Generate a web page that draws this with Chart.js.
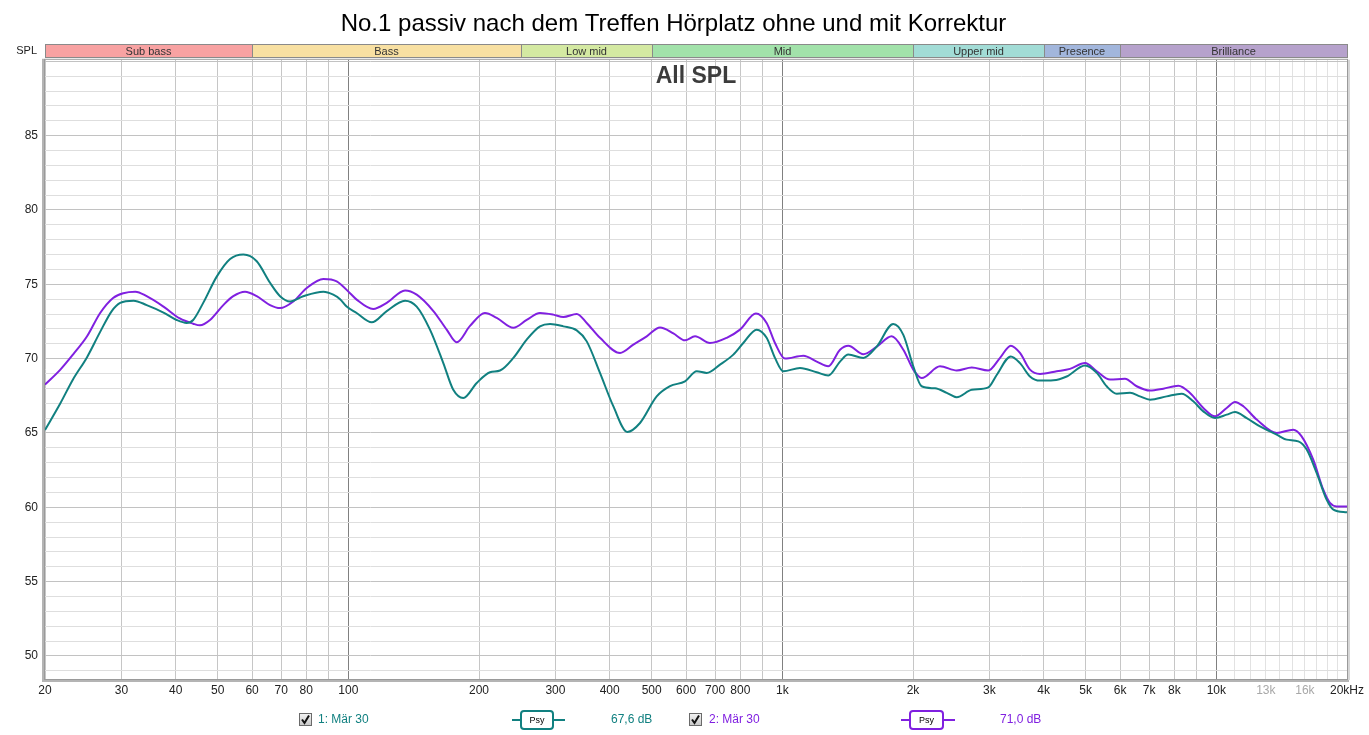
<!DOCTYPE html>
<html>
<head>
<meta charset="utf-8">
<script src="https://cdn.jsdelivr.net/npm/chart.js@4.4.0/dist/chart.umd.min.js"></script>
<style>
  html, body { margin: 0; padding: 0; background: #fff; }
  #wrap { width: 1369px; height: 735px; }
</style>
</head>
<body>
<div id="wrap"><canvas id="myChart"></canvas></div>
<script>
// measurement 1 (teal), frequency in Hz and SPL in dB
const freq1 = [20, 21.7, 23.2, 25, 26.8, 28.5, 29.8, 32, 34.3, 37.5,
  40.2, 42.4, 43.9, 46.3, 49.7, 53.4, 57.3, 61.5, 66, 69.6,
  73.4, 78.7, 87.6, 92.3, 95.7, 99.1, 104.5, 113.2, 122.6, 135.1,
  143.7, 154.2, 165.5, 174.5, 184, 197.6, 212, 223.6, 240, 257.6,
  276.4, 291.6, 312.9, 335.9, 354.2, 380, 407.8, 439.4, 469.9, 513.4,
  551, 596.6, 634.9, 669.4, 718.4, 771, 812.8, 872.6, 920, 961.6,
  1005, 1098, 1200, 1276, 1358, 1419, 1537, 1649, 1801, 1900,
  2003, 2094, 2248, 2392, 2522, 2732, 2982, 3118, 3360, 3528,
  3720, 3924, 4212, 4520, 4982, 5302, 5588, 5894, 6325, 6668,
  7035, 7684, 8318, 8848, 9332, 9931, 10564, 11040, 11748, 12604,
  13772, 14520, 15446, 16148, 17032, 17962, 18606, 20000];
const spl1 = [65.2, 67.0, 68.6, 70.1, 71.8, 73.2, 73.75, 73.9, 73.6, 73.1,
  72.6, 72.4, 72.6, 73.75, 75.5, 76.7, 77.0, 76.55, 75.1, 74.2,
  73.85, 74.2, 74.5, 74.3, 74.0, 73.5, 73.07, 72.44, 73.2, 73.9,
  73.5, 71.95, 69.7, 67.9, 67.35, 68.36, 69.08, 69.2, 70.05, 71.28,
  72.17, 72.33, 72.17, 71.9, 71.16, 69.04, 66.8, 65.07, 65.67, 67.46,
  68.15, 68.47, 69.15, 69.04, 69.6, 70.27, 71.05, 71.95, 71.4, 70.05,
  69.15, 69.37, 69.08, 68.86, 69.8, 70.27, 70.05, 70.8, 72.33, 71.6,
  69.48, 68.14, 68.0, 67.7, 67.4, 67.9, 68.07, 68.9, 70.15, 69.7,
  68.8, 68.52, 68.54, 68.8, 69.53, 69.04, 68.14, 67.64, 67.7, 67.46,
  67.24, 67.46, 67.64, 67.13, 66.45, 66.0, 66.23, 66.41, 66.0, 65.44,
  64.89, 64.55, 64.43, 63.88, 62.3, 60.5, 59.84, 59.66];

// measurement 2 (purple)
const freq2 = [20, 21.7, 23.2, 25, 26.8, 28.7, 30.3, 32.3, 34.3, 37.5,
  40.9, 43.9, 45.5, 48, 51.5, 54.3, 57.8, 61.5, 66, 69.6,
  74.7, 80.2, 87.6, 94, 100.9, 104.5, 114.1, 122.6, 135.1, 143.7,
  157, 168.5, 177.7, 190.7, 206.4, 219.7, 240, 257.6, 276.4, 296.7,
  312.9, 335.9, 354.2, 380, 422.7, 453.6, 487, 522.6, 560.8, 596.6,
  629.2, 681.2, 744.4, 798.8, 869.2, 920, 961.6, 1014, 1118, 1200,
  1276, 1358, 1419, 1537, 1649, 1786, 1900, 2003, 2094, 2308,
  2522, 2732, 2982, 3174, 3360, 3528, 3720, 3924, 4287, 4600,
  4982, 5302, 5688, 6158, 6551, 7035, 7548, 8173, 8695, 9332,
  9931, 10564, 11040, 11538, 12388, 13772, 15038, 15720, 16720, 17636,
  18270, 18932, 20000];
const spl2 = [68.25, 69.26, 70.27, 71.5, 73.07, 74.08, 74.4, 74.5, 74.2, 73.5,
  72.7, 72.35, 72.24, 72.6, 73.6, 74.2, 74.5, 74.2, 73.6, 73.4,
  73.85, 74.75, 75.36, 75.2, 74.4, 73.97, 73.34, 73.75, 74.58, 74.3,
  73.2, 71.95, 71.1, 72.2, 73.07, 72.74, 72.07, 72.6, 73.07, 72.96,
  72.8, 73.0, 72.4, 71.4, 70.38, 70.94, 71.5, 72.1, 71.7, 71.23,
  71.5, 71.05, 71.4, 71.95, 73.03, 72.4, 71.05, 70.0, 70.2, 69.8,
  69.48, 70.6, 70.87, 70.3, 70.8, 71.5, 70.6, 69.26, 68.7, 69.48,
  69.2, 69.4, 69.2, 70.05, 70.87, 70.38, 69.26, 68.97, 69.15, 69.31,
  69.71, 69.15, 68.59, 68.65, 68.14, 67.85, 67.98, 68.18, 67.69, 66.68,
  66.12, 66.68, 67.09, 66.8, 65.9, 65.0, 65.22, 64.77, 63.2, 61.18,
  60.29, 60.06, 60.06];

const xTickValues = [20, 30, 40, 50, 60, 70, 80, 90,
  100, 200, 300, 400, 500, 600, 700, 800, 900,
  1000, 2000, 3000, 4000, 5000, 6000, 7000, 8000, 9000,
  10000, 11000, 12000, 13000, 14000, 15000, 16000, 17000, 18000, 19000, 20000];
const xTickLabels = ["20", "30", "40", "50", "60", "70", "80", "",
  "100", "200", "300", "400", "500", "600", "700", "800", "",
  "1k", "2k", "3k", "4k", "5k", "6k", "7k", "8k", "",
  "10k", "", "", "13k", "", "", "16k", "", "", "", "20kHz"];
const greyTickLabels = [13000, 16000];
const yTickLabels = [50, 55, 60, 65, 70, 75, 80, 85];

const bandNames = ["Sub bass", "Bass", "Low mid", "Mid", "Upper mid", "Presence", "Brilliance"];
const bandEdges = [20, 60, 250, 500, 2000, 4000, 6000, 20000];
const bandColors = ["#f8a2a2", "#f8e0a2", "#d4e9a2", "#a2e2aa", "#a2dcd6", "#a2b6dc", "#b6a2cc"];

const seriesNames = ["1: Mär 30", "2: Mär 30"];
const seriesLevels = ["67,6 dB", "71,0 dB"];
const seriesColors = ["#118080", "#8020e0"];

const FONT = "'Liberation Sans', Arial, sans-serif";
Chart.defaults.font.family = FONT;

const toPoints = (f, s) => f.map((v, i) => ({ x: v, y: s[i] }));

function drawCheckbox(ctx, x, y) {
  const g = ctx.createLinearGradient(x, y, x, y + 13);
  g.addColorStop(0, "#f6f6f6");
  g.addColorStop(1, "#c6c6c6");
  ctx.fillStyle = g;
  ctx.fillRect(x, y, 13, 13);
  ctx.strokeStyle = "#6a6a6a";
  ctx.lineWidth = 1;
  ctx.strokeRect(x + 0.5, y + 0.5, 12, 12);
  ctx.strokeStyle = "#111";
  ctx.lineWidth = 2;
  ctx.beginPath();
  ctx.moveTo(x + 3, y + 6.5);
  ctx.lineTo(x + 5.5, y + 10);
  ctx.lineTo(x + 10, y + 2.5);
  ctx.stroke();
}

function drawPsy(ctx, x0, x1, bx0, bx1, cy, color) {
  ctx.strokeStyle = color;
  ctx.lineWidth = 2;
  ctx.beginPath();
  ctx.moveTo(x0, cy);
  ctx.lineTo(x1, cy);
  ctx.stroke();
  ctx.fillStyle = "#fff";
  ctx.beginPath();
  ctx.roundRect(bx0, cy - 9, bx1 - bx0, 18, 3);
  ctx.fill();
  ctx.stroke();
  ctx.fillStyle = "#000";
  ctx.font = "9px " + FONT;
  ctx.textAlign = "center";
  ctx.textBaseline = "middle";
  ctx.fillText("Psy", (bx0 + bx1) / 2, cy + 1);
}

const decorations = {
  id: "decorations",
  afterDraw(chart) {
    const { ctx, chartArea: a, scales: { x } } = chart;
    ctx.save();

    // frequency band strip above the plot
    const top = 44, h = 13;
    ctx.font = "11px " + FONT;
    ctx.textAlign = "center";
    ctx.textBaseline = "middle";
    for (let i = 0; i < bandNames.length; i++) {
      const x0 = Math.round(x.getPixelForValue(bandEdges[i]));
      const x1 = Math.round(x.getPixelForValue(bandEdges[i + 1]));
      ctx.fillStyle = bandColors[i];
      ctx.fillRect(x0, top, x1 - x0, h);
      ctx.strokeStyle = "#8a8a8a";
      ctx.lineWidth = 1;
      ctx.strokeRect(x0 + 0.5, top + 0.5, x1 - x0, h);
      ctx.fillStyle = "#333";
      ctx.fillText(bandNames[i], (x0 + x1) / 2, top + h / 2 + 1);
    }
    ctx.fillStyle = "#222";
    ctx.textAlign = "right";
    ctx.fillText("SPL", 37, top + h / 2);

    // plot frame
    ctx.strokeStyle = "#9a9a9a";
    ctx.lineWidth = 1;
    ctx.strokeRect(a.left - 0.5, a.top - 0.5, a.width + 1, a.height + 1);
    ctx.fillStyle = "#b4b4b4";
    ctx.fillRect(a.left - 3, a.top - 1, 2, a.height + 4);
    ctx.fillRect(a.left - 3, a.bottom + 1, a.width + 5, 2);
    ctx.fillStyle = "#d6d6d6";
    ctx.fillRect(a.right + 1, a.top, 2, a.height + 1);

    // graph caption
    ctx.fillStyle = "#3c3c3c";
    ctx.font = "bold 23px " + FONT;
    ctx.textAlign = "center";
    ctx.textBaseline = "middle";
    ctx.fillText("All SPL", (a.left + a.right) / 2, 77);

    // bottom legend
    const cy = 720;
    const spots = [
      { box: 299, name: 318, psy: [512, 565, 521, 553], lvl: 611 },
      { box: 689, name: 709, psy: [901, 955, 910, 943], lvl: 1000 },
    ];
    spots.forEach((s, i) => {
      drawCheckbox(ctx, s.box, cy - 7);
      ctx.font = "12px " + FONT;
      ctx.textAlign = "left";
      ctx.textBaseline = "middle";
      ctx.fillStyle = seriesColors[i];
      ctx.fillText(seriesNames[i], s.name, cy);
      ctx.fillText(seriesLevels[i], s.lvl, cy);
      drawPsy(ctx, s.psy[0], s.psy[1], s.psy[2], s.psy[3], cy, seriesColors[i]);
    });
    ctx.restore();
  },
};

const ctx = document.getElementById("myChart").getContext("2d");
new Chart(ctx, {
  type: "line",
  data: {
    datasets: [
      {
        label: seriesNames[0],
        data: toPoints(freq1, spl1),
        borderColor: seriesColors[0],
        borderWidth: 2,
        pointRadius: 0,
        cubicInterpolationMode: "monotone",
        fill: false,
      },
      {
        label: seriesNames[1],
        data: toPoints(freq2, spl2),
        borderColor: seriesColors[1],
        borderWidth: 2,
        pointRadius: 0,
        cubicInterpolationMode: "monotone",
        fill: false,
      },
    ],
  },
  options: {
    responsive: true,
    maintainAspectRatio: false,
    animation: false,
    layout: { padding: { left: 0, right: 22, top: 0, bottom: 36 } },
    plugins: {
      legend: { display: false },
      tooltip: { enabled: false },
      title: {
        display: true,
        text: "No.1 passiv nach dem Treffen Hörplatz ohne und mit Korrektur",
        color: "#000",
        font: { size: 24, weight: "normal", family: FONT },
        padding: { top: 10, bottom: 21 },
      },
    },
    scales: {
      x: {
        type: "logarithmic",
        min: 20,
        max: 20000,
        afterBuildTicks: (scale) => {
          scale.ticks = xTickValues.map((v) => ({ value: v }));
        },
        afterFit: (scale) => {
          scale.height = 20;
        },
        ticks: {
          autoSkip: false,
          maxRotation: 0,
          padding: 4,
          font: { size: 12 },
          color: (c) => (greyTickLabels.includes(c.tick.value) ? "#a8a8a8" : "#222"),
          callback: (v) => xTickLabels[xTickValues.indexOf(v)],
        },
        grid: {
          drawTicks: false,
          color: (c) => {
            const v = c.tick ? c.tick.value : 0;
            if (v === 100 || v === 1000 || v === 10000) return "#808080";
            if (v > 10000) return "#e2e2e2";
            return "#c6c6c6";
          },
        },
        border: { display: false },
      },
      y: {
        type: "linear",
        min: 48.45,
        max: 90.1,
        afterBuildTicks: (scale) => {
          const t = [];
          for (let v = 49; v <= 90; v++) t.push({ value: v });
          scale.ticks = t;
        },
        afterFit: (scale) => {
          scale.width = 45;
        },
        ticks: {
          autoSkip: false,
          padding: 7,
          font: { size: 12 },
          color: "#222",
          callback: (v) => (yTickLabels.includes(v) ? String(v) : ""),
        },
        grid: {
          drawTicks: false,
          color: (c) => (c.tick && c.tick.value % 5 === 0 ? "#c2c2c2" : "#dedede"),
        },
        border: { display: false },
      },
    },
  },
  plugins: [decorations],
});
</script>
</body>
</html>
